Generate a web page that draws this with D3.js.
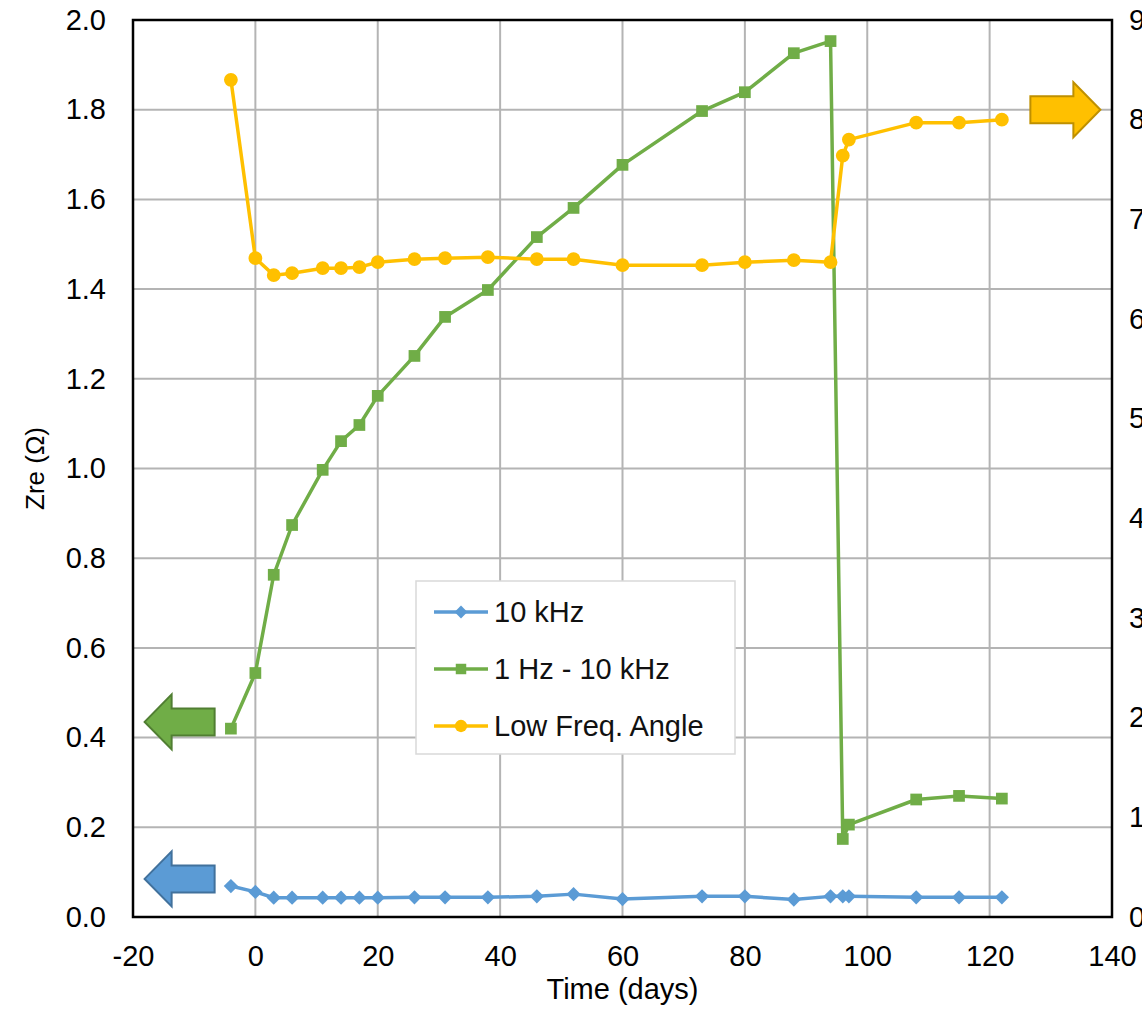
<!DOCTYPE html>
<html>
<head>
<meta charset="utf-8">
<script src="https://cdn.jsdelivr.net/npm/d3@7"></script>
<style>
  html, body { margin: 0; padding: 0; background: #fff; overflow: hidden; }
  svg { display: block; font-family: "Liberation Sans", Arial, sans-serif; }
</style>
</head>
<body>
<div id="chart"></div>
<script>
// days of each measurement
const days = [-4, 0, 3, 6, 11, 14, 17, 20, 26, 31, 38, 46, 52, 60, 73, 80, 88, 94, 96, 97, 108, 115, 122]
// Zre at 10 kHz (ohm)
const zre10k = [0.069, 0.056, 0.043, 0.043, 0.043, 0.043, 0.043, 0.043, 0.044, 0.044, 0.044, 0.046, 0.051, 0.040, 0.046, 0.046, 0.039, 0.046, 0.046, 0.046, 0.044, 0.044, 0.044]
// Zre between 1 Hz and 10 kHz (ohm)
const zre1Hz = [0.42, 0.544, 0.763, 0.874, 0.997, 1.061, 1.097, 1.162, 1.251, 1.338, 1.398, 1.516, 1.581, 1.677, 1.797, 1.839, 1.926, 1.953, 0.174, 0.206, 0.262, 0.270, 0.264]
// low frequency phase angle (degrees, right axis)
const lowAngle = [84.0, 66.1, 64.4, 64.6, 65.1, 65.1, 65.2, 65.7, 66.0, 66.1, 66.2, 66.0, 66.0, 65.4, 65.4, 65.7, 65.9, 65.7, 76.4, 78.0, 79.7, 79.7, 80.0]

const xTicks = [-20, 0, 20, 40, 60, 80, 100, 120, 140]
const yTicks = [0, 0.2, 0.4, 0.6, 0.8, 1.0, 1.2, 1.4, 1.6, 1.8, 2.0]
const y2Ticks = [0, 10, 20, 30, 40, 50, 60, 70, 80, 90]

const seriesNames = ['10 kHz', '1 Hz - 10 kHz', 'Low Freq. Angle']
const colors = ['#5b9bd5', '#70ad47', '#ffc000']

const width = 1142
const height = 1010
const margin = { top: 20, right: 30, bottom: 93, left: 133 }
const fontSize = 29

const svg = d3.select('#chart').append('svg')
  .attr('width', width)
  .attr('height', height)

svg.append('rect').attr('width', width).attr('height', height).attr('fill', '#fff')

const x = d3.scaleLinear().domain([-20, 140]).range([margin.left, width - margin.right])
const y = d3.scaleLinear().domain([0, 2]).range([height - margin.bottom, margin.top])
const y2 = d3.scaleLinear().domain([0, 90]).range([height - margin.bottom, margin.top])

// grid
svg.append('g').selectAll('line.v')
  .data(xTicks)
  .join('line')
  .attr('x1', d => x(d)).attr('x2', d => x(d))
  .attr('y1', y(0)).attr('y2', y(2))
  .attr('stroke', '#b4b4b4').attr('stroke-width', 2)

svg.append('g').selectAll('line.h')
  .data(yTicks)
  .join('line')
  .attr('x1', x(-20)).attr('x2', x(140))
  .attr('y1', d => y(d)).attr('y2', d => y(d))
  .attr('stroke', '#b4b4b4').attr('stroke-width', 2)

// plot frame
svg.append('rect')
  .attr('x', x(-20)).attr('y', y(2))
  .attr('width', x(140) - x(-20)).attr('height', y(0) - y(2))
  .attr('fill', 'none').attr('stroke', '#000').attr('stroke-width', 2.5)

// tick labels
const xAxis = d3.axisBottom(x).tickValues(xTicks).tickFormat(d => String(d)).tickSize(0).tickPadding(28)
svg.append('g')
  .attr('transform', `translate(0,${y(0)})`)
  .call(xAxis)
  .call(g => g.select('.domain').remove())
  .selectAll('text')
  .attr('font-size', fontSize).attr('font-family', 'Liberation Sans, Arial').attr('fill', '#000')

const yAxis = d3.axisLeft(y).tickValues(yTicks).tickFormat(d3.format('.1f')).tickSize(0).tickPadding(27)
svg.append('g')
  .attr('transform', `translate(${x(-20)},0)`)
  .call(yAxis)
  .call(g => g.select('.domain').remove())
  .selectAll('text')
  .attr('font-size', fontSize).attr('font-family', 'Liberation Sans, Arial').attr('fill', '#000')

const y2Axis = d3.axisRight(y2).tickValues(y2Ticks).tickSize(0).tickPadding(17)
svg.append('g')
  .attr('transform', `translate(${x(140)},0)`)
  .call(y2Axis)
  .call(g => g.select('.domain').remove())
  .selectAll('text')
  .attr('font-size', fontSize).attr('font-family', 'Liberation Sans, Arial').attr('fill', '#000')

// axis titles
svg.append('text')
  .attr('x', (x(-20) + x(140)) / 2).attr('y', 999)
  .attr('text-anchor', 'middle')
  .attr('font-size', fontSize)
  .text('Time (days)')

svg.append('text')
  .attr('transform', `translate(44,${(y(0) + y(2)) / 2}) rotate(-90)`)
  .attr('text-anchor', 'middle')
  .attr('font-size', 26)
  .text('Zre (Ω)')

// arrows pointing to the axis each series belongs to
const arrowShape = (tipX, cy, dir) => {
  const head = 27, len = 70, sh = 13.5, hh = 27.5
  const s = dir === 'left' ? 1 : -1
  return [
    [tipX, cy],
    [tipX + s * head, cy - hh],
    [tipX + s * head, cy - sh],
    [tipX + s * len, cy - sh],
    [tipX + s * len, cy + sh],
    [tipX + s * head, cy + sh],
    [tipX + s * head, cy + hh]
  ]
}
const arrows = [
  { tip: x(-18.1), cy: y(0.085), dir: 'left', fill: '#5b9bd5', stroke: '#41719c' },
  { tip: x(-18.1), cy: y(0.435), dir: 'left', fill: '#70ad47', stroke: '#507e32' },
  { tip: x(138.1), cy: y2(81), dir: 'right', fill: '#ffc000', stroke: '#bf9000' }
]
svg.append('g').selectAll('polygon')
  .data(arrows)
  .join('polygon')
  .attr('points', d => arrowShape(d.tip, d.cy, d.dir).join(' '))
  .attr('fill', d => d.fill)
  .attr('stroke', d => d.stroke)
  .attr('stroke-width', 2)

// series
const series = [
  { name: seriesNames[0], color: colors[0], scale: y, values: zre10k, marker: d3.symbolDiamond2, size: 130 },
  { name: seriesNames[1], color: colors[1], scale: y, values: zre1Hz, marker: d3.symbolSquare2, size: 175 },
  { name: seriesNames[2], color: colors[2], scale: y2, values: lowAngle, marker: d3.symbolCircle, size: 150 }
]

series.forEach(s => {
  const pts = days.map((d, i) => [x(d), s.scale(s.values[i])])
  const g = svg.append('g')
  g.append('path')
    .attr('d', d3.line()(pts))
    .attr('fill', 'none')
    .attr('stroke', s.color)
    .attr('stroke-width', 3.5)
    .attr('stroke-linejoin', 'round')
  g.selectAll('path.m')
    .data(pts)
    .join('path')
    .attr('class', 'm')
    .attr('transform', p => `translate(${p[0]},${p[1]})`)
    .attr('d', d3.symbol().type(s.marker).size(s.size))
    .attr('fill', s.color)
})

// legend
const legend = svg.append('g').attr('transform', 'translate(416,581)')
legend.append('rect')
  .attr('width', 319).attr('height', 173)
  .attr('fill', '#fff').attr('stroke', '#d9d9d9').attr('stroke-width', 1.5)

const rows = legend.selectAll('g.row')
  .data(series)
  .join('g')
  .attr('transform', (d, i) => `translate(0,${31 + i * 57})`)

rows.append('line')
  .attr('x1', 18).attr('x2', 72)
  .attr('stroke', d => d.color).attr('stroke-width', 3.5)
rows.append('path')
  .attr('transform', 'translate(45,0)')
  .attr('d', d => d3.symbol().type(d.marker).size(d.size * 0.8)())
  .attr('fill', d => d.color)
rows.append('text')
  .attr('x', 78).attr('dy', '0.35em')
  .attr('font-size', fontSize)
  .attr('fill', '#111')
  .text(d => d.name)
</script>
</body>
</html>
